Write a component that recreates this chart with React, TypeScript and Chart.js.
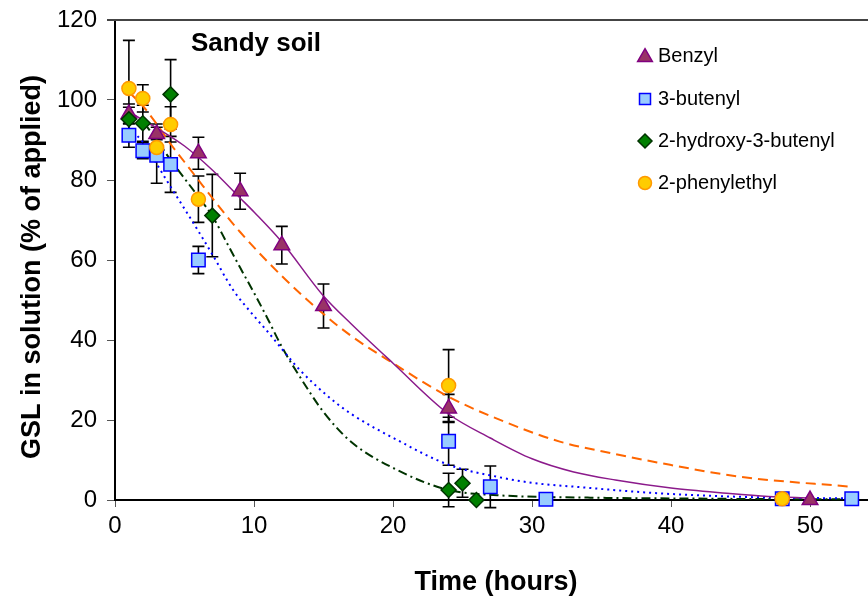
import React, { useEffect, useRef } from 'react';
import { Chart, registerables } from 'chart.js';

Chart.register(...registerables);

// ---- Measured points (time in hours, % of applied) ----
const benzylX = [1, 3, 6, 9, 12, 15, 24, 50];
const benzylY = [96.5, 91.5, 86.7, 77.2, 63.7, 48.5, 22.9, 0];
const benzylErr = [2.5, 2.5, 4, 4.5, 4.7, 5.5, 3.5, 0];

const butenylX = [1, 2, 3, 4, 6, 24, 27, 31, 48, 53];
const butenylY = [91.2, 87.3, 86.2, 83.9, 60, 14.7, 3.3, 0.2, 0.3, 0.3];
const butenylErr = [3, 2, 7, 7, 3.4, 6, 5.2, 0, 0, 0];

const hydroxyX = [1, 2, 4, 7, 24, 25, 26];
const hydroxyY = [95.2, 94.2, 101.4, 71.1, 2.5, 4.2, 0];
const hydroxyErr = [3, 4.5, 8.7, 10.3, 4.2, 3.5, 0];

const phenylX = [1, 2, 3, 4, 6, 24, 48];
const phenylY = [102.9, 100.4, 88.1, 93.9, 75.2, 28.6, 0.3];
const phenylErr = [12, 3.4, 2, 4.4, 5.8, 9, 0];

// ---- Fitted curves ----
const benzylFitX = [1, 3, 5, 7, 9, 10, 12, 15, 17, 20, 24, 27, 30, 33, 36, 40, 44, 47, 50];
const benzylFitY = [97, 93, 88.5, 82.5, 75.5, 72, 64.5, 51, 44, 34.2, 21.5, 15.5, 10.3, 7, 5, 3, 1.7, 0.9, 0.5];

const butenylFitX = [1, 2, 3, 4, 5, 6, 7, 8.5, 10, 11, 13.3, 15.5, 17, 20.3, 24, 27.5, 30, 33.5, 39, 46, 53];
const butenylFitY = [93, 89.5, 84, 78.3, 72.8, 67.2, 61.4, 52.5, 46, 42, 32.5, 25.4, 21.5, 15, 8.8, 5.8, 4.3, 3.2, 1.7, 0.7, 0.4];

const hydroxyFitX = [1, 2, 3, 4, 5, 6, 7, 8, 9, 10, 11, 12, 13.3, 15, 17, 20.3, 24, 27.5, 34, 40, 50, 53];
const hydroxyFitY = [97, 94.5, 90, 85, 80.4, 75.8, 71, 64.6, 58.1, 51.8, 45.2, 38.3, 30.8, 22, 14.5, 7.5, 2.5, 1.2, 0.6, 0.4, 0.2, 0.2];

const phenylFitX = [1, 2, 3, 4, 5, 6, 7, 9, 12, 15, 17, 20, 24, 28, 32, 36, 39, 45, 53];
const phenylFitY = [102, 98.5, 94, 89, 84.5, 80, 75.5, 67, 56, 46.5, 41, 34.2, 25.8, 19.6, 14.6, 11.5, 9.4, 5.8, 3.3];

// ---- Labels ----
const seriesNames = ['Benzyl', '3-butenyl', '2-hydroxy-3-butenyl', '2-phenylethyl'];
const panelTitle = 'Sandy soil';
const xTitle = 'Time (hours)';
const yTitle = 'GSL in solution (% of applied)';
const yTickValues = [0, 20, 40, 60, 80, 100, 120];
const xTickValues = [0, 10, 20, 30, 40, 50];

const FONT = '"Liberation Sans", Arial, Helvetica, sans-serif';

const C = {
  triFill: '#993366', triLine: '#800080',
  sqFill: '#99CCFF', sqLine: '#0000FF',
  diaFill: '#008000', diaLine: '#003300',
  cirFill: '#FFCC00', cirLine: '#FF9900',
  purple: '#8B1A8B', blue: '#0000FF', green: '#003300', orange: '#FF6600',
};

const pts = (xs: number[], ys: number[]) => xs.map((x, i) => ({ x, y: ys[i] }));

const errorSeries = [
  { x: benzylX, y: benzylY, e: benzylErr },
  { x: butenylX, y: butenylY, e: butenylErr },
  { x: hydroxyX, y: hydroxyY, e: hydroxyErr },
  { x: phenylX, y: phenylY, e: phenylErr },
];

function drawShape(ctx: CanvasRenderingContext2D, kind: string, x: number, y: number, r: number, fill: string, stroke: string) {
  ctx.save();
  ctx.beginPath();
  if (kind === 'tri') {
    const h = r * 1.5;
    const w = r * Math.sqrt(3);
    ctx.moveTo(x, y - h / 2 - 1);
    ctx.lineTo(x + w / 2, y + h / 2 - 1);
    ctx.lineTo(x - w / 2, y + h / 2 - 1);
    ctx.closePath();
  } else if (kind === 'sq') {
    ctx.rect(x - r, y - r, 2 * r, 2 * r);
  } else if (kind === 'dia') {
    ctx.moveTo(x, y - r);
    ctx.lineTo(x + r, y);
    ctx.lineTo(x, y + r);
    ctx.lineTo(x - r, y);
    ctx.closePath();
  } else {
    ctx.arc(x, y, r, 0, Math.PI * 2);
  }
  ctx.fillStyle = fill;
  ctx.fill();
  ctx.lineWidth = 1.5;
  ctx.strokeStyle = stroke;
  ctx.stroke();
  ctx.restore();
}

const errorBarPlugin = {
  id: 'errorBars',
  beforeDatasetsDraw(chart: any) {
    const { ctx } = chart;
    const xs = chart.scales.x;
    const ys = chart.scales.y;
    ctx.save();
    ctx.strokeStyle = '#000';
    ctx.lineWidth = 1.6;
    errorSeries.forEach((s) => {
      s.x.forEach((xv, i) => {
        const e = s.e[i];
        if (!e) return;
        const px = xs.getPixelForValue(xv);
        const top = ys.getPixelForValue(s.y[i] + e);
        const bot = ys.getPixelForValue(s.y[i] - e);
        ctx.beginPath();
        ctx.moveTo(px, top);
        ctx.lineTo(px, bot);
        ctx.moveTo(px - 6, top);
        ctx.lineTo(px + 6, top);
        ctx.moveTo(px - 6, bot);
        ctx.lineTo(px + 6, bot);
        ctx.stroke();
      });
    });
    ctx.restore();
  },
};

const decorPlugin = {
  id: 'decor',
  afterDraw(chart: any) {
    const { ctx, chartArea } = chart;
    ctx.save();
    // top frame line
    ctx.strokeStyle = '#444';
    ctx.lineWidth = 2;
    ctx.beginPath();
    ctx.moveTo(chartArea.left - 8, chartArea.top);
    ctx.lineTo(chartArea.right, chartArea.top);
    ctx.stroke();

    ctx.fillStyle = '#000';
    ctx.textBaseline = 'middle';
    ctx.textAlign = 'center';
    // axis titles
    ctx.font = `bold 27px ${FONT}`;
    ctx.fillText(xTitle, 496, 583);
    ctx.save();
    ctx.translate(33, 267);
    ctx.rotate(-Math.PI / 2);
    ctx.fillText(yTitle, 0, 0);
    ctx.restore();

    // panel title
    ctx.font = `bold 26px ${FONT}`;
    ctx.textAlign = 'left';
    ctx.fillText(panelTitle, 191, 44);

    // legend
    const items = [
      { kind: 'tri', fill: C.triFill, line: C.triLine, r: 8.5, y: 56 },
      { kind: 'sq', fill: C.sqFill, line: C.sqLine, r: 5.5, y: 99 },
      { kind: 'dia', fill: C.diaFill, line: C.diaLine, r: 7, y: 141 },
      { kind: 'cir', fill: C.cirFill, line: C.cirLine, r: 6.5, y: 183 },
    ];
    ctx.font = `20px ${FONT}`;
    items.forEach((it, i) => {
      drawShape(ctx, it.kind, 645, it.y, it.r, it.fill, it.line);
      ctx.fillStyle = '#000';
      ctx.textBaseline = 'middle';
      ctx.textAlign = 'left';
      ctx.fillText(seriesNames[i], 658, it.y);
    });
    ctx.restore();
  },
};

export default function App() {
  const ref = useRef<HTMLCanvasElement | null>(null);

  useEffect(() => {
    if (!ref.current) return;
    const fitBase = {
      showLine: true,
      pointRadius: 0,
      pointHoverRadius: 0,
      cubicInterpolationMode: 'monotone' as const,
      borderWidth: 2,
      fill: false,
      order: 10,
      clip: false,
    };
    const markBase = {
      showLine: false,
      borderWidth: 1.5,
      clip: false,
    };
    const chart = new Chart(ref.current, {
      type: 'scatter',
      data: {
        datasets: [
          { ...fitBase, label: 'fit-benzyl', data: pts(benzylFitX, benzylFitY), borderColor: C.purple, borderWidth: 1.5 },
          { ...fitBase, label: 'fit-butenyl', data: pts(butenylFitX, butenylFitY), borderColor: C.blue, borderDash: [2, 4] },
          { ...fitBase, label: 'fit-hydroxy', data: pts(hydroxyFitX, hydroxyFitY), borderColor: C.green, borderDash: [9, 4, 2, 4] },
          { ...fitBase, label: 'fit-phenyl', data: pts(phenylFitX, phenylFitY), borderColor: C.orange, borderDash: [10, 6] },
          { ...markBase, label: seriesNames[0], data: pts(benzylX, benzylY), pointStyle: 'triangle', pointRadius: 9, backgroundColor: C.triFill, borderColor: C.triLine, order: 4 },
          { ...markBase, label: seriesNames[1], data: pts(butenylX, butenylY), pointStyle: 'rect', pointRadius: 9.5, backgroundColor: C.sqFill, borderColor: C.sqLine, order: 3 },
          { ...markBase, label: seriesNames[2], data: pts(hydroxyX, hydroxyY), pointStyle: 'rectRot', pointRadius: 7.5, backgroundColor: C.diaFill, borderColor: C.diaLine, order: 2 },
          { ...markBase, label: seriesNames[3], data: pts(phenylX, phenylY), pointStyle: 'circle', pointRadius: 7, backgroundColor: C.cirFill, borderColor: C.cirLine, order: 1 },
        ],
      },
      options: {
        responsive: false,
        animation: false,
        devicePixelRatio: 1,
        layout: { padding: { top: 20, left: 0, right: 0, bottom: 0 } },
        plugins: { legend: { display: false }, tooltip: { enabled: false } },
        scales: {
          x: {
            type: 'linear',
            min: 0,
            max: 54.17,
            afterBuildTicks: (scale: any) => {
              scale.ticks = xTickValues.map((v) => ({ value: v }));
            },
            afterFit: (scale: any) => {
              scale.height = 100;
              scale.paddingLeft = 0;
              scale.paddingRight = 0;
            },
            grid: { display: true, drawOnChartArea: false, drawTicks: true, tickLength: 7, color: '#555', lineWidth: 1 },
            border: { display: true, color: '#000', width: 2 },
            ticks: { color: '#000', font: { family: FONT, size: 24 }, padding: 5, maxRotation: 0 },
            title: { display: false },
          },
          y: {
            type: 'linear',
            min: 0,
            max: 120,
            afterBuildTicks: (scale: any) => {
              scale.ticks = yTickValues.map((v) => ({ value: v }));
            },
            afterFit: (scale: any) => {
              scale.width = 115;
              scale.paddingTop = 0;
              scale.paddingBottom = 0;
            },
            grid: { display: true, drawOnChartArea: false, drawTicks: true, tickLength: 8, color: '#555', lineWidth: 1 },
            border: { display: true, color: '#000', width: 2 },
            ticks: { color: '#000', font: { family: FONT, size: 24 }, padding: 10 },
            title: { display: false },
          },
        },
      },
      plugins: [errorBarPlugin, decorPlugin],
    } as any);
    return () => chart.destroy();
  }, []);

  return (
    <div style={{ position: 'fixed', left: 0, top: 0, width: 868, height: 600, overflow: 'hidden', background: '#fff' }}>
      <canvas ref={ref} width={879} height={600} style={{ display: 'block' }} />
    </div>
  );
}
